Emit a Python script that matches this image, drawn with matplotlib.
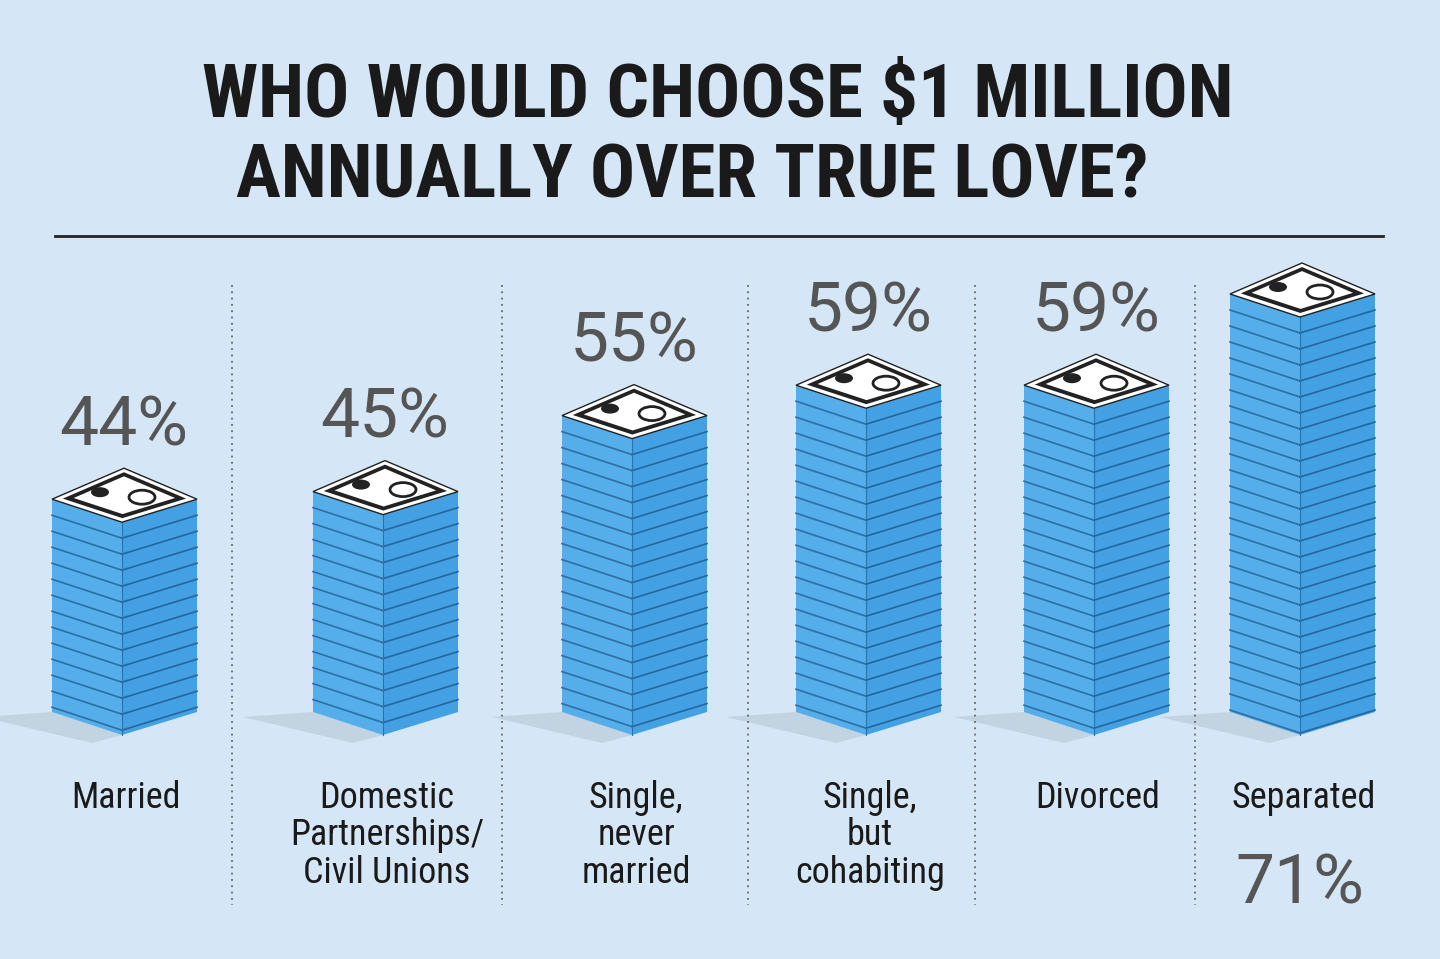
import matplotlib
matplotlib.use("Agg")
import matplotlib.pyplot as plt
from matplotlib.patches import Polygon, Ellipse
import numpy as np

categories = ["Married", "Domestic\nPartnerships/\nCivil Unions", "Single,\nnever\nmarried",
              "Single,\nbut\ncohabiting", "Divorced", "Separated"]
values = [44, 45, 55, 59, 59, 71]
labels = ["44%", "45%", "55%", "59%", "59%", "71%"]

W, H = 1440, 959
fig = plt.figure(figsize=(14.4, 9.59), dpi=100)
fig.patch.set_facecolor("#d5e7f6")
ax = fig.add_axes([0, 0, 1, 1])
ax.set_xlim(0, W); ax.set_ylim(H, 0); ax.axis("off")

narrow = ["Liberation Sans Narrow", "Roboto Condensed", "DejaVu Sans"]
ax.text(718, 97, "WHO WOULD CHOOSE $1 MILLION", ha="center", va="center",
        fontsize=54, fontweight="bold", family=narrow, color="#1a1a1a")
ax.text(692, 178, "ANNUALLY OVER TRUE LOVE?", ha="center", va="center",
        fontsize=54, fontweight="bold", family=narrow, color="#1a1a1a")
ax.plot([55, 1383], [236, 236], color="#222", lw=2)

for x in [232, 502, 748, 975, 1195]:
    ax.plot([x, x], [285, 905], color="#666", lw=1.3, ls=(0, (1, 2.5)))

fronts = [122, 383, 632, 866, 1094, 1300]
base_y = 735
wl, wr, dl, dr = 70, 75, 23, 23
def hpx(v):
    return 7.6 * (v - 16)

for fx, v, lab, cat in zip(fronts, values, labels, categories):
    h = hpx(v)
    ty = base_y - h
    ax.add_patch(Polygon([(fx - wl, base_y - dl), (fx, base_y), (fx - 30, base_y + 8),
                          (fx - wl - 70, base_y - dl + 5)], closed=True,
                         facecolor="#c2d3e2", edgecolor="none", zorder=1))
    left = [(fx - wl, ty - dl), (fx, ty), (fx, base_y), (fx - wl, base_y - dl)]
    right = [(fx, ty), (fx + wr, ty - dr), (fx + wr, base_y - dr), (fx, base_y)]
    ax.add_patch(Polygon(left, closed=True, facecolor="#55aeea", edgecolor="none", zorder=2))
    ax.add_patch(Polygon(right, closed=True, facecolor="#42a0e3", edgecolor="none", zorder=2))
    for yy in np.arange(ty + 16, base_y, 16):
        ax.plot([fx - wl, fx], [yy - dl, yy], color="#2a70a5", lw=1.2, zorder=3)
        ax.plot([fx, fx + wr], [yy, yy - dr], color="#23679c", lw=1.2, zorder=3)
    ax.plot([fx, fx], [ty, base_y], color="#2a72a8", lw=0.8, zorder=3)
    top = [(fx - wl, ty - dl), (fx + 2, ty - 2 * dl - 8), (fx + wr, ty - dr), (fx, ty)]
    ax.add_patch(Polygon(top, closed=True, facecolor="white", edgecolor="#222", lw=1, zorder=4))
    c = np.array([fx + 2, ty - dl - 4])
    inner = [c + (0.85 * (np.array(p) - c)) for p in top]
    ax.add_patch(Polygon(inner, closed=True, facecolor="#222", edgecolor="none", zorder=5))
    inner2 = [c + (0.7 * (np.array(p) - c)) for p in top]
    ax.add_patch(Polygon(inner2, closed=True, facecolor="white", edgecolor="none", zorder=6))
    ax.add_patch(Ellipse((c[0] + 18, c[1] + 2), 26, 14, facecolor="white", edgecolor="#222", lw=2, zorder=7))
    ax.add_patch(Ellipse((c[0] - 24, c[1] - 3), 18, 10, facecolor="#222", edgecolor="none", zorder=7))
    if v < 70:
        ax.text(fx + 2, ty - 2 * dl - 50, lab, ha="center", va="center", fontsize=50,
                family=["Roboto", "DejaVu Sans"], color="#555")
    else:
        ax.text(fx, 885, lab, ha="center", va="center", fontsize=50,
                family=["Roboto", "DejaVu Sans"], color="#555")
    ax.text(fx + 4, 780, cat, ha="center", va="top", fontsize=26, family=narrow,
            color="#1a1a1a", linespacing=1.05)

fig.savefig("out.png", dpi=100, facecolor=fig.get_facecolor())
